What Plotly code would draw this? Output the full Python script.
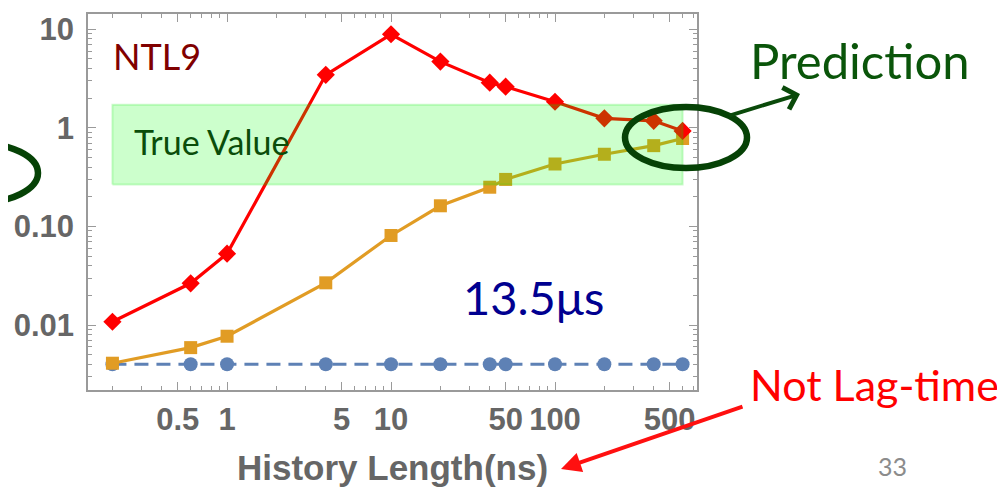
import plotly.graph_objects as go

# ---------------- data ----------------
history_ns = [0.2, 0.6, 1, 4, 10, 20, 40, 50, 100, 200, 400, 600]
red_vals = [0.0108, 0.0265, 0.053, 3.45, 8.9, 4.7, 2.87, 2.62, 1.84, 1.25, 1.18, 0.93]
orange_vals = [0.0041, 0.0059, 0.0077, 0.0268, 0.081, 0.162, 0.25, 0.30, 0.43, 0.54, 0.66, 0.78]
blue_vals = [0.004, 0.004, 0.004, 0.004, 0.004, 0.004, 0.004, 0.004, 0.004, 0.004, 0.004, 0.004]
true_x = [0.2, 600]
true_low, true_high = 0.266, 1.72

x_tick_vals = [0.5, 1, 5, 10, 50, 100, 500]
x_tick_text = ["0.5", "1", "5", "10", "50", "100", "500"]
y_tick_vals = [0.01, 0.1, 1, 10]
y_tick_text = ["0.01", "0.10", "1", "10"]

x_minor = [m * 10 ** e for e in range(-1, 3) for m in range(2, 10)
           if 0.15 < m * 10 ** e < 730 and m * 10 ** e not in x_tick_vals]
y_minor = [m * 10 ** e for e in range(-3, 2) for m in range(2, 10) if 0.0022 < m * 10 ** e < 14]

# ---------------- layout helpers (screen pixel -> paper) ----------------
# the page body has an 8px margin, so the figure is placed at (8, 8) on screen
OFF = 8
W, H = 1005 - OFF, 487 - OFF
SL, ST, SR, SB = 88, 14, 697, 390          # plot frame in screen pixels
L, T, R, B = SL - OFF, ST - OFF, SR - OFF, SB - OFF


def px(x):
    return (x - SL) / (SR - SL)


def py(y):
    return (SB - y) / (SB - ST)


fig = go.Figure()

fig.add_trace(go.Scatter(
    x=history_ns, y=blue_vals, mode="lines+markers",
    line=dict(color="#5e81b5", width=3.2, dash="14px,8px"),
    marker=dict(symbol="circle", size=14, color="#5e81b5"),
    showlegend=False, hoverinfo="skip"))
fig.add_trace(go.Scatter(
    x=history_ns, y=orange_vals, mode="lines+markers",
    line=dict(color="#e19c24", width=3.2),
    marker=dict(symbol="square", size=13, color="#e19c24"),
    showlegend=False, hoverinfo="skip"))
fig.add_trace(go.Scatter(
    x=history_ns, y=red_vals, mode="lines+markers",
    line=dict(color="#ff0000", width=3.2),
    marker=dict(symbol="diamond", size=14, color="#ff0000"),
    showlegend=False, hoverinfo="skip"))
# true value band (drawn on top, translucent)
fig.add_trace(go.Scatter(
    x=[true_x[0], true_x[1], true_x[1], true_x[0], true_x[0]],
    y=[true_low, true_low, true_high, true_high, true_low],
    mode="lines", fill="toself", fillcolor="rgba(0,255,0,0.2)",
    line=dict(color="rgba(0,230,0,0.2)", width=2),
    showlegend=False, hoverinfo="skip"))

axis_common = dict(
    type="log", showline=True, linecolor="#9a9a9a", linewidth=1.5, mirror="allticks",
    ticks="inside", ticklen=8, tickwidth=1.2, tickcolor="#9a9a9a",
    showgrid=False, zeroline=False, automargin=False,
    tickfont=dict(family="Liberation Sans", size=31, color="#666666", weight="bold"),
)

fig.update_xaxes(
    **axis_common, range=[-0.848, 2.866], tickmode="array",
    tickvals=x_tick_vals, ticktext=x_tick_text, ticklabelstandoff=1,
    minor=dict(tickmode="array", tickvals=x_minor, ticks="inside", ticklen=4,
               tickcolor="#9a9a9a", tickwidth=1, showgrid=False),
    title=dict(text="History Length(ns)", standoff=20,
               font=dict(family="Liberation Sans", size=35, color="#666666", weight="bold")),
)
fig.update_yaxes(
    **axis_common, range=[-2.659, 1.155], tickmode="array",
    tickvals=y_tick_vals, ticktext=y_tick_text, ticklabelstandoff=6,
    minor=dict(tickmode="array", tickvals=y_minor, ticks="inside", ticklen=4,
               tickcolor="#9a9a9a", tickwidth=1, showgrid=False),
)

TF = "Lato"
annots = [
    dict(text="NTL9", x=px(111), y=py(56), font=dict(family=TF, size=36, color="#800000")),
    dict(text="True Value", x=px(132), y=py(141), font=dict(family=TF, size=34, color="#0a4d0a")),
    dict(text="13.5\u03bcs", x=px(461), y=py(297), font=dict(family=TF, size=47, color="#000090")),
    dict(text="Prediction", x=px(748), y=py(60), font=dict(family=TF, size=49, color="#0a550a")),
    dict(text="Not Lag-time", x=px(748), y=py(384), font=dict(family=TF, size=43, color="#ff0000")),
    dict(text="33", x=px(876), y=py(466), font=dict(family=TF, size=25, color="#8c8c8c")),
]
for a in annots:
    fig.add_annotation(xref="paper", yref="paper", xanchor="left", yanchor="middle",
                       showarrow=False, **a)

# arrows
fig.add_annotation(xref="paper", yref="paper", x=px(800), y=py(94), ax=-72, ay=22,
                   text="", showarrow=True, arrowhead=4, arrowsize=1.1,
                   arrowwidth=4, arrowcolor="#0a4a0a")
fig.add_annotation(xref="paper", yref="paper", x=px(561), y=py(469), ax=183, ay=-63,
                   text="", showarrow=True, arrowhead=2, arrowsize=1,
                   arrowwidth=4, arrowcolor="#ff1010")

# ellipses and partial neighbouring panel on the left
fig.add_shape(type="circle", xref="paper", yref="paper",
              x0=px(625), x1=px(747), y0=py(168), y1=py(107),
              line=dict(color="#064206", width=6.5), layer="above")
fig.add_shape(type="rect", xref="paper", yref="paper",
              x0=px(0), x1=px(7), y0=py(205), y1=py(152),
              fillcolor="rgba(0,255,0,0.2)", line=dict(width=0), layer="above")
fig.add_shape(type="circle", xref="paper", yref="paper",
              x0=px(-84), x1=px(38), y0=py(203), y1=py(143),
              line=dict(color="#064206", width=6.5), layer="above")

fig.update_layout(
    width=W, height=H,
    margin=dict(l=L, r=W - R, t=T, b=H - B, autoexpand=False),
    plot_bgcolor="white", paper_bgcolor="white",
    showlegend=False,
)

fig.write_html("out.html")
